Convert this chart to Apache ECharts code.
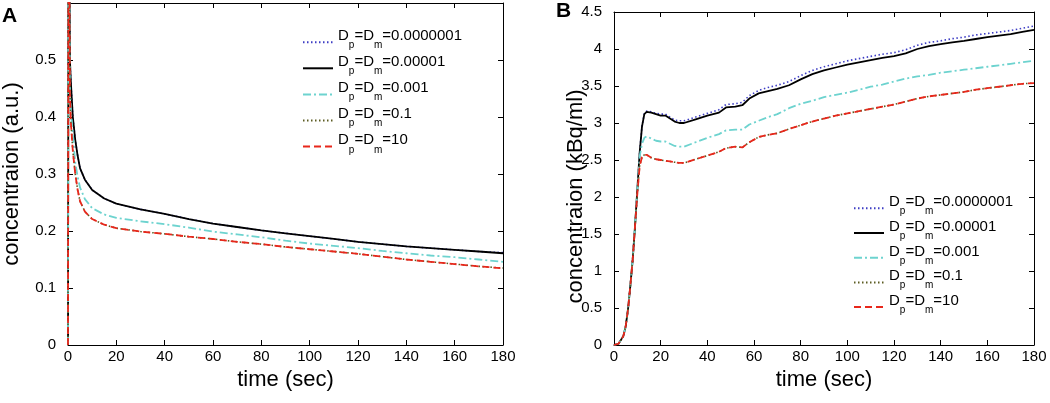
<!DOCTYPE html>
<html>
<head>
<meta charset="utf-8">
<script src="https://cdn.jsdelivr.net/npm/echarts@6/dist/echarts.min.js"></script>
<style>
html,body{margin:0;padding:0;background:#fff;}
#chart{width:1050px;height:403px;}
</style>
</head>
<body>
<div id="chart"></div>
<script>
// ---------- DATA ----------
const seriesNames = ['Dp=Dm=0.0000001', 'Dp=Dm=0.00001', 'Dp=Dm=0.001', 'Dp=Dm=0.1', 'Dp=Dm=10'];
const xTicks = [0, 20, 40, 60, 80, 100, 120, 140, 160, 180];

// Panel A (concentration, a.u.)
const tA = [0, 0.25, 0.8, 1.2, 2, 3, 4, 5, 7, 10, 15, 20, 30, 40, 50, 60, 70, 80, 90, 100, 110, 120, 130, 140, 150, 160, 170, 180];
const blueA  = [0, 0.96, 0.50, 0.46, 0.40, 0.36, 0.332, 0.310, 0.290, 0.272, 0.257, 0.248, 0.238, 0.230, 0.221, 0.213, 0.207, 0.201, 0.196, 0.191, 0.186, 0.181, 0.177, 0.173, 0.170, 0.167, 0.164, 0.162];
const blackA = [0, 0.95, 0.50, 0.46, 0.40, 0.36, 0.332, 0.310, 0.290, 0.272, 0.257, 0.248, 0.238, 0.230, 0.221, 0.213, 0.207, 0.201, 0.196, 0.191, 0.186, 0.181, 0.177, 0.173, 0.170, 0.167, 0.164, 0.161];
const cyanA  = [0, 0.90, 0.45, 0.41, 0.37, 0.32, 0.295, 0.276, 0.256, 0.240, 0.229, 0.223, 0.217, 0.212, 0.206, 0.199, 0.194, 0.189, 0.183, 0.178, 0.174, 0.170, 0.165, 0.161, 0.157, 0.154, 0.150, 0.146];
const oliveA = [0, 0.88, 0.44, 0.39, 0.34, 0.30, 0.272, 0.252, 0.234, 0.221, 0.211, 0.205, 0.199, 0.195, 0.190, 0.186, 0.181, 0.177, 0.172, 0.168, 0.164, 0.160, 0.155, 0.150, 0.146, 0.142, 0.138, 0.135];
const redA   = [0, 0.88, 0.44, 0.39, 0.34, 0.30, 0.272, 0.252, 0.234, 0.221, 0.211, 0.205, 0.199, 0.195, 0.190, 0.186, 0.181, 0.177, 0.172, 0.168, 0.164, 0.160, 0.155, 0.150, 0.146, 0.142, 0.138, 0.1345];

// Panel B (concentration, kBq/ml)
const tB = [0, 2, 4, 5, 6, 7, 8, 9, 10, 11, 12, 13, 14, 16, 18, 20, 22, 24, 26, 28, 30, 35, 40, 45, 48, 52, 55, 58, 62, 66, 70, 75, 80, 85, 90, 95, 100, 105, 110, 115, 120, 125, 130, 135, 140, 145, 150, 155, 160, 165, 170, 175, 180];
const blueB  = [0, 0.02, 0.12, 0.25, 0.48, 0.8, 1.15, 1.6, 2.1, 2.6, 2.96, 3.13, 3.16, 3.15, 3.13, 3.12, 3.12, 3.08, 3.04, 3.03, 3.03, 3.08, 3.13, 3.18, 3.25, 3.26, 3.28, 3.37, 3.44, 3.48, 3.51, 3.56, 3.64, 3.71, 3.76, 3.80, 3.84, 3.87, 3.90, 3.93, 3.95, 3.99, 4.05, 4.09, 4.11, 4.14, 4.16, 4.19, 4.21, 4.23, 4.25, 4.28, 4.31];
const blackB = [0, 0.02, 0.12, 0.25, 0.48, 0.8, 1.15, 1.6, 2.1, 2.6, 2.95, 3.12, 3.15, 3.14, 3.12, 3.10, 3.10, 3.06, 3.02, 3.00, 3.00, 3.05, 3.10, 3.14, 3.21, 3.22, 3.24, 3.33, 3.40, 3.43, 3.46, 3.51, 3.59, 3.66, 3.71, 3.75, 3.79, 3.82, 3.85, 3.88, 3.905, 3.94, 4.00, 4.04, 4.065, 4.09, 4.11, 4.135, 4.16, 4.18, 4.20, 4.23, 4.26];
const cyanB  = [0, 0.02, 0.12, 0.25, 0.48, 0.8, 1.15, 1.6, 2.1, 2.55, 2.72, 2.80, 2.82, 2.79, 2.76, 2.75, 2.75, 2.72, 2.69, 2.68, 2.68, 2.74, 2.80, 2.85, 2.90, 2.91, 2.91, 2.98, 3.03, 3.08, 3.12, 3.20, 3.26, 3.30, 3.35, 3.38, 3.41, 3.45, 3.49, 3.52, 3.56, 3.60, 3.63, 3.65, 3.68, 3.70, 3.72, 3.74, 3.76, 3.78, 3.80, 3.82, 3.84];
const oliveB = [0, 0.02, 0.12, 0.25, 0.48, 0.8, 1.15, 1.6, 2.05, 2.42, 2.54, 2.57, 2.57, 2.53, 2.51, 2.50, 2.49, 2.48, 2.47, 2.46, 2.46, 2.51, 2.56, 2.61, 2.66, 2.68, 2.67, 2.74, 2.81, 2.84, 2.86, 2.92, 2.97, 3.02, 3.06, 3.10, 3.13, 3.16, 3.19, 3.22, 3.25, 3.29, 3.33, 3.36, 3.38, 3.40, 3.42, 3.45, 3.47, 3.49, 3.51, 3.53, 3.54];
const redB   = [0, 0.02, 0.12, 0.25, 0.48, 0.8, 1.15, 1.6, 2.05, 2.42, 2.54, 2.57, 2.57, 2.53, 2.51, 2.50, 2.49, 2.48, 2.47, 2.46, 2.46, 2.51, 2.56, 2.61, 2.66, 2.68, 2.67, 2.74, 2.81, 2.84, 2.86, 2.92, 2.97, 3.02, 3.06, 3.10, 3.13, 3.16, 3.19, 3.22, 3.25, 3.29, 3.33, 3.36, 3.38, 3.40, 3.42, 3.45, 3.47, 3.49, 3.51, 3.53, 3.54];

// ---------- STYLE ----------
const FONT = '"Liberation Sans", Arial, Helvetica, sans-serif';
const styles = [
  { color: '#3d3dc4', type: [1.5, 2.5], width: 1.6 },
  { color: '#000000', type: 'solid', width: 1.8 },
  { color: '#6dd3cf', type: [8, 3, 2, 3], width: 1.8 },
  { color: '#5c5c22', type: [1.5, 2.5], width: 1.6 },
  { color: '#e8271b', type: [7, 4], width: 1.8 }
];
const NOFILL = 'rgba(0,0,0,0)';

function pairs(t, v) { return t.map((x, i) => [x, v[i]]); }

const panelA = [blueA, blackA, cyanA, oliveA, redA];
const panelB = [blueB, blackB, cyanB, oliveB, redB];

const series = [];
[[panelA, tA, 0], [panelB, tB, 2]].forEach(([vals, t, ax]) => {
  vals.forEach((v, i) => {
    series.push({
      name: seriesNames[i], type: 'line', xAxisIndex: ax, yAxisIndex: ax,
      data: pairs(t, v), showSymbol: false, symbol: 'none', clip: true,
      lineStyle: styles[i],
      itemStyle: { color: NOFILL, borderColor: NOFILL, borderWidth: 0 },
      emphasis: { disabled: true },
      z: 2 + i
    });
  });
});

function xAx(grid, pos, show) {
  return {
    gridIndex: grid, type: 'value', position: pos, min: xTicks[0], max: xTicks[xTicks.length - 1], interval: 20,
    axisLine: { show: true, onZero: false, lineStyle: { color: '#000', width: 1 } },
    axisTick: { show: true, inside: true, length: 5, lineStyle: { color: '#000' } },
    axisLabel: { show: show, color: '#000', fontSize: 15, fontFamily: FONT, margin: 4 },
    splitLine: { show: false },
    name: show ? 'time (sec)' : '', nameLocation: 'middle', nameGap: 20,
    nameTextStyle: { color: '#000', fontSize: 22, fontFamily: FONT }
  };
}
function yAx(grid, pos, show, max, interval, name, gap, shiftPad) {
  return {
    gridIndex: grid, type: 'value', position: pos, min: 0, max: max, interval: interval,
    axisLine: { show: true, onZero: false, lineStyle: { color: '#000', width: 1 } },
    axisTick: { show: true, inside: true, length: 5, lineStyle: { color: '#000' } },
    axisLabel: { show: show, color: '#000', fontSize: 15, fontFamily: FONT, margin: 12, showMaxLabel: max === 0.6 ? false : true },
    splitLine: { show: false },
    name: show ? name : '', nameLocation: 'middle', nameGap: gap, nameMoveOverlap: false,
    nameTextStyle: { color: '#000', fontSize: 22, fontFamily: FONT, padding: [0, shiftPad || 0, 0, 0] }
  };
}

function legendFmt(name) {
  const val = name.split('=').pop();
  return '{n|D}{s|p}{n|=D}{s|m}{n|=' + val + '}';
}
const legendRich = {
  n: { fontSize: 15, fontFamily: FONT, color: '#000', lineHeight: 20, padding: [0, 0, 12.6, 0] },
  s: { fontSize: 10, fontFamily: FONT, color: '#000', lineHeight: 20, padding: [6.4, 0, 0, 0] }
};
function legend(left, top, gap) {
  return {
    orient: 'vertical', left: left, top: top, padding: 0,
    itemWidth: 30, itemHeight: 14, itemGap: gap, selectedMode: false,
    data: seriesNames, formatter: legendFmt,
    itemStyle: { color: NOFILL, borderColor: NOFILL, borderWidth: 0, opacity: 0 },
    textStyle: { rich: legendRich, fontFamily: FONT, fontSize: 15, color: '#000' }
  };
}

const option = {
  animation: false,
  backgroundColor: '#fff',
  textStyle: { fontFamily: FONT },
  grid: [
    { left: 67, right: 547, top: 3, bottom: 58 },
    { left: 614, right: 16, top: 12, bottom: 58 }
  ],
  xAxis: [xAx(0, 'bottom', true), xAx(0, 'top', false), xAx(1, 'bottom', true), xAx(1, 'top', false)],
  yAxis: [
    yAx(0, 'left', true, 0.6, 0.1, 'concentraion (a.u.)', 45, 0),
    yAx(0, 'right', false, 0.6, 0.1, '', 0, 0),
    yAx(1, 'left', true, 4.5, 0.5, 'concentraion (kBq/ml)', 27, 36),
    yAx(1, 'right', false, 4.5, 0.5, '', 0, 0)
  ],
  legend: [legend(302, 28.4, -1.5), legend(853, 194.5, -2.9)],
  graphic: [
    { type: 'text', left: 2, top: 6, style: { text: 'A', font: 'bold 21px ' + FONT, fill: '#000' } },
    { type: 'text', left: 556, top: 1, style: { text: 'B', font: 'bold 21px ' + FONT, fill: '#000' } }
  ],
  series: series
};

const chart = echarts.init(document.getElementById('chart'), null, { renderer: 'canvas' });
chart.setOption(option);
</script>
</body>
</html>
